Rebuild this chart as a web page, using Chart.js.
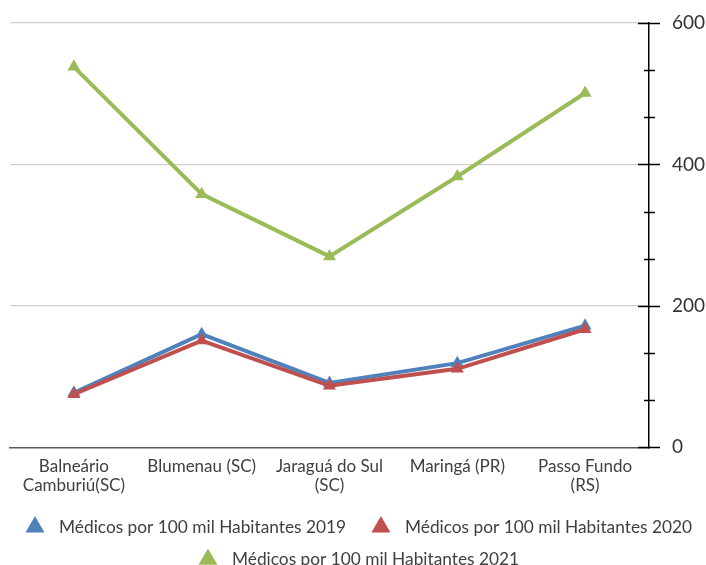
<!DOCTYPE html>
<html>
<head>
<meta charset="utf-8">
<script src="https://cdn.jsdelivr.net/npm/chart.js@4"></script>
<style>
  html, body { margin: 0; padding: 0; background: #fff; overflow: hidden; }
  #wrap { width: 706px; height: 565px; }
</style>
</head>
<body>
<div id="wrap"><canvas id="c" width="706" height="565"></canvas></div>
<script>
// Cities on the category axis
const cities = [
  ['Balneário', 'Camburiú(SC)'],
  'Blumenau (SC)',
  ['Jaraguá do Sul', '(SC)'],
  'Maringá (PR)',
  ['Passo Fundo', '(RS)']
];

// Doctors per 100k inhabitants, by year
const medicos2019 = [77, 160, 91, 119, 172];
const medicos2020 = [75, 151, 87, 111, 167];
const medicos2021 = [538, 358, 270, 383, 501];

const seriesNames = [
  'Médicos por 100 mil Habitantes 2019',
  'Médicos por 100 mil Habitantes 2020',
  'Médicos por 100 mil Habitantes 2021'
];

// Labelled ticks on the right axis; two unlabeled minor ticks between each pair
const yMajorTicks = [0, 200, 400, 600];
const yMinorPerMajor = 3;

const FONT = 'Lato, "Open Sans", sans-serif';

// Draws the crossing tick marks on the right-hand value axis
const axisTickMarks = {
  id: 'axisTickMarks',
  afterDraw(chart) {
    const s = chart.scales.y;
    const ctx = chart.ctx;
    const x = s.left;
    ctx.save();
    ctx.strokeStyle = '#000';
    ctx.lineWidth = 1.5;
    s.ticks.forEach(t => {
      const y = Math.round(s.getPixelForValue(t.value)) + 0.5;
      const major = yMajorTicks.includes(Math.round(t.value * 1000) / 1000);
      const l = major ? 11 : 5;
      const r = major ? 11 : 6;
      ctx.beginPath();
      ctx.moveTo(x - l, y);
      ctx.lineTo(x + r, y);
      ctx.stroke();
    });
    ctx.restore();
  }
};

// Nudges the legend block a little to the right of the canvas centre
const legendNudge = {
  id: 'legendNudge',
  afterLayout(chart) {
    const lg = chart.legend;
    if (lg) { lg.left += 5; lg.right += 5; }
  }
};

const colors = ['#4f81bd', '#c0504d', '#9bbb59'];
const series = [medicos2019, medicos2020, medicos2021];
const drawOrder = [1, 0, 2];
// extra room after an entry that shares its row with another
const legendTrail = ['  ', '', ''];

new Chart(document.getElementById('c'), {
  type: 'line',
  data: {
    labels: cities,
    datasets: series.map((vals, i) => ({
      label: seriesNames[i],
      data: vals,
      xAxisID: 'x',
      yAxisID: 'y',
      borderColor: colors[i],
      backgroundColor: colors[i],
      borderWidth: 4,
      pointStyle: 'triangle',
      pointRadius: 7.5,
      pointBorderWidth: 0,
      pointHoverRadius: 7.5,
      tension: 0,
      fill: false,
      order: drawOrder[i]
    }))
  },
  plugins: [axisTickMarks, legendNudge],
  options: {
    responsive: false,
    animation: false,
    layout: { padding: { left: 0, right: 0, top: 23, bottom: -13 } },
    plugins: {
      tooltip: { enabled: false },
      legend: {
        position: 'bottom',
        labels: {
          usePointStyle: true,
          pointStyle: 'triangle',
          pointStyleWidth: 22,
          boxHeight: 15.5,
          padding: 15,
          color: '#404040',
          font: { family: FONT, size: 17.3 },
          sort: (a, b) => a.datasetIndex - b.datasetIndex,
          generateLabels(chart) {
            const items = Chart.defaults.plugins.legend.labels.generateLabels(chart);
            items.forEach(it => { it.text = ' ' + it.text + legendTrail[it.datasetIndex]; });
            return items;
          }
        }
      }
    },
    scales: {
      x: {
        offset: true,
        grid: { display: false, drawTicks: false },
        border: { display: true, color: '#595959', width: 1.5 },
        afterFit(scale) { scale.height -= 2; },
        ticks: {
          color: '#404040',
          padding: 10,
          maxRotation: 0,
          autoSkip: false,
          font: { family: FONT, size: 17, lineHeight: 1.12 }
        }
      },
      y: {
        position: 'right',
        min: 0,
        max: 600,
        afterBuildTicks(scale) {
          const step = (yMajorTicks[1] - yMajorTicks[0]) / yMinorPerMajor;
          const out = [];
          for (let k = 0; k <= (yMajorTicks.length - 1) * yMinorPerMajor; k++) {
            out.push({ value: k * step });
          }
          scale.ticks = out;
        },
        afterFit(scale) { scale.width = 57; scale.paddingTop = 0; scale.paddingBottom = 0; },
        grid: {
          drawTicks: false,
          lineWidth: 1.2,
          color(ctx) {
            const v = Math.round(ctx.tick.value * 1000) / 1000;
            return (v !== 0 && yMajorTicks.includes(v)) ? '#cfcfcf' : 'rgba(0,0,0,0)';
          }
        },
        border: { display: true, color: '#000', width: 1.5 },
        ticks: {
          padding: 23,
          color: '#333',
          font: { family: FONT, size: 19 },
          callback(value) {
            const v = Math.round(value * 1000) / 1000;
            return yMajorTicks.includes(v) ? String(v) : '';
          }
        }
      },
      // empty strip that keeps the plot off the left edge
      gutter: {
        type: 'linear',
        position: 'left',
        display: true,
        min: 0,
        max: 1,
        grid: { display: false, drawTicks: false },
        border: { display: false },
        ticks: { display: false },
        afterFit(scale) { scale.width = 10; scale.paddingTop = 0; scale.paddingBottom = 0; }
      }
    }
  }
});
</script>
</body>
</html>
